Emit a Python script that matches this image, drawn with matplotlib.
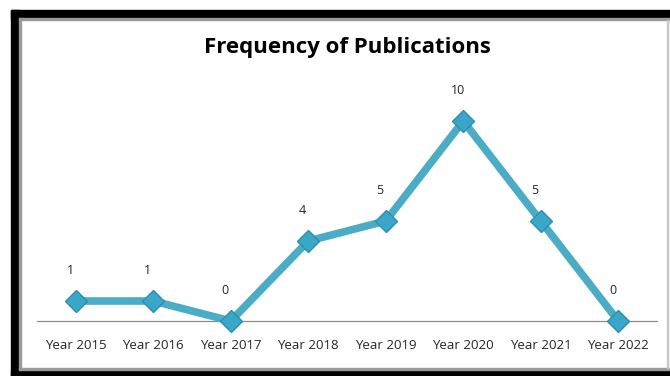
import matplotlib.pyplot as plt
from matplotlib.patches import Rectangle

# Data
years = ['Year 2015', 'Year 2016', 'Year 2017', 'Year 2018',
         'Year 2019', 'Year 2020', 'Year 2021', 'Year 2022']
counts = [1, 1, 0, 4, 5, 10, 5, 0]

W, H = 670, 376
fig = plt.figure(figsize=(W / 100, H / 100), dpi=100)
fig.patch.set_facecolor('white')

# frame: thick black on top/left/bottom, thin gray inside
def px_rect(x0, y0, x1, y1, color):
    fig.patches.append(Rectangle((x0 / W, 1 - y1 / H), (x1 - x0) / W, (y1 - y0) / H,
                                 transform=fig.transFigure, color=color, zorder=0))

px_rect(11, 10, 670, 18, 'black')
px_rect(11, 10, 19, 376, 'black')
px_rect(11, 370, 670, 376, 'black')
px_rect(19, 18, 670, 20, '#9a9a9a')
px_rect(19, 18, 21, 370, '#9a9a9a')
px_rect(19, 368, 670, 370, '#9a9a9a')
px_rect(667, 20, 668, 368, '#c8c8c8')

ax = fig.add_axes([37 / W, (H - 321) / H, 620 / W, 240 / H])
ax.set_facecolor('none')
x = list(range(len(years)))
ax.plot(x, counts, color='#4BACC6', linewidth=5.5, solid_capstyle='round',
        solid_joinstyle='round', marker='D', markersize=11,
        markerfacecolor='#3aa6c8', markeredgecolor='#2b8fb0',
        markeredgewidth=1.0, zorder=3, clip_on=False)

for xi, v in zip(x, counts):
    ax.annotate(str(v), (xi, v), xytext=(-4, 17), textcoords='offset points',
                ha='center', va='bottom', fontsize=9, color='#262626',
                family='Open Sans')

ax.set_xlim(-0.5, len(years) - 0.5)
ax.set_ylim(0, 12)
ax.set_xticks(x)
ax.set_xticklabels(years, family='Open Sans', fontsize=9.5, color='#262626')
ax.tick_params(axis='x', length=0, pad=13)
ax.set_yticks([])
for s in ['top', 'right', 'left']:
    ax.spines[s].set_visible(False)
ax.spines['bottom'].set_color('#8c8c8c')
ax.spines['bottom'].set_linewidth(0.9)

fig.text(347 / W, 1 - 48 / H, 'Frequency of Publications', ha='center', va='center',
         fontsize=16, fontweight='bold', family='Open Sans', color='black')

fig.savefig('out.png', dpi=100)
